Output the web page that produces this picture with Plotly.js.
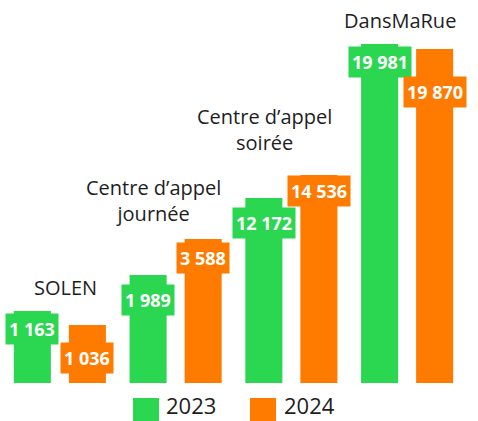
<!DOCTYPE html>
<html>
<head>
<meta charset="utf-8">
<script src="https://cdn.plot.ly/plotly-3.0.1.min.js"></script>
<style>html,body{margin:0;padding:0;background:#fff;}#chart{width:478px;height:421px;}</style>
</head>
<body>
<div id="chart"></div>
<script>
// Data
const categories = ["SOLEN", "Centre d’appel<br>journée", "Centre d’appel<br>soirée", "DansMaRue"];
const values2023 = [1163, 1989, 12172, 19981];
const values2024 = [1036, 3588, 14536, 19870];
// Bar heights as drawn in the infographic (not proportional to values)
const heights2023 = [72, 108, 185, 339];
const heights2024 = [58, 144, 208, 334];
const seriesNames = ["2023", "2024"];

// Styles
const GREEN = "#2bd651";
const ORANGE = "#ff7b00";
const FONT = "Open Sans";
const TXT = "#1e1e1e";

function fmt(v) { return String(v).replace(/\B(?=(\d{3})+(?!\d))/g, " "); }

const idx = categories.map((c, i) => i);
const traces = [
  {type: "bar", x: idx, y: heights2023, name: seriesNames[0], marker: {color: GREEN}, hoverinfo: "skip"},
  {type: "bar", x: idx, y: heights2024, name: seriesNames[1], marker: {color: ORANGE}, hoverinfo: "skip"}
];

const bargap = 0.049;
const slot = (1 - bargap) / 2;
const off = slot / 2;

// label layout (offsets below bar top, px)
const lblDrop2023 = [17.5, 25, 24.5, 18];
const lblDrop2024 = [32.5, 18.5, 16, 42.5];
const catXShift = [6, -22, -27, -7];
const catYShift = [8, 10, 17, 8];

const annotations = [];
idx.forEach(i => {
  annotations.push({
    x: i - off, y: heights2023[i] - lblDrop2023[i], xref: "x", yref: "y",
    text: "<b>" + fmt(values2023[i]) + "</b>", showarrow: false,
    font: {family: FONT, size: 18, color: "#fff"}, bgcolor: GREEN, borderpad: 3,
    xanchor: "center", yanchor: "middle"
  });
  annotations.push({
    x: i + off, y: heights2024[i] - lblDrop2024[i], xref: "x", yref: "y",
    text: "<b>" + fmt(values2024[i]) + "</b>", showarrow: false,
    font: {family: FONT, size: 18, color: "#fff"}, bgcolor: ORANGE, borderpad: 3,
    xanchor: "center", yanchor: "middle"
  });
  annotations.push({
    x: i, y: Math.max(heights2023[i], heights2024[i]), xref: "x", yref: "y",
    text: categories[i], showarrow: false, xshift: catXShift[i], yshift: catYShift[i],
    font: {family: FONT, size: 20, color: TXT}, xanchor: "center", yanchor: "bottom", align: "center"
  });
});

// custom legend
const H = 383; // plot height in px
function py(p) { return (H - p) / H; }
const legendShapes = [
  {type: "rect", xref: "paper", yref: "paper", x0: (133 - 2) / 463, x1: (159 - 2) / 463, y0: py(424), y1: py(398), fillcolor: GREEN, line: {width: 0}},
  {type: "rect", xref: "paper", yref: "paper", x0: (250 - 2) / 463, x1: (276 - 2) / 463, y0: py(424), y1: py(398), fillcolor: ORANGE, line: {width: 0}}
];
annotations.push({xref: "paper", yref: "paper", x: (164 - 2) / 463, y: py(405), xanchor: "left", yanchor: "middle", text: seriesNames[0], showarrow: false, font: {family: FONT, size: 22, color: TXT}});
annotations.push({xref: "paper", yref: "paper", x: (282 - 2) / 463, y: py(405), xanchor: "left", yanchor: "middle", text: seriesNames[1], showarrow: false, font: {family: FONT, size: 22, color: TXT}});

const layout = {
  width: 478, height: 421,
  margin: {l: 2, r: 13, t: 0, b: 38, pad: 0},
  paper_bgcolor: "#fff", plot_bgcolor: "#fff",
  barmode: "group", bargap: bargap, bargroupgap: 0.327,
  showlegend: false,
  xaxis: {range: [-0.5, 3.5], visible: false, fixedrange: true},
  yaxis: {range: [0, H], visible: false, fixedrange: true},
  annotations: annotations,
  shapes: legendShapes
};

Plotly.newPlot("chart", traces, layout, {displayModeBar: false, staticPlot: true});
</script>
</body>
</html>
